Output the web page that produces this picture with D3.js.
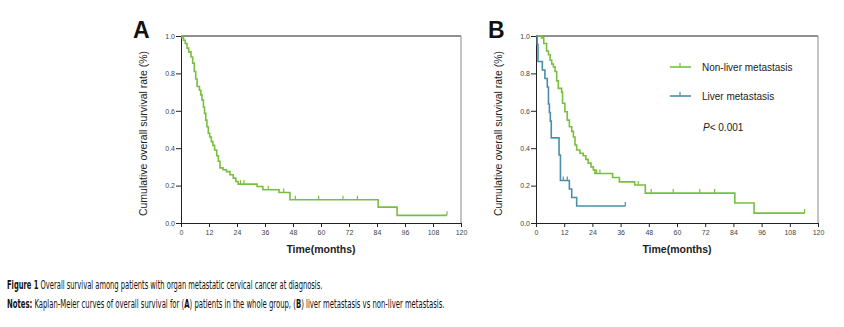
<!DOCTYPE html>
<html lang="en">
<head>
  <meta charset="UTF-8">
  <title>Overall survival - organ metastatic cervical cancer</title>
  <script src="https://d3js.org/d3.v7.min.js"></script>
  <style>
    html, body {
      margin: 0;
      padding: 0;
      background: #fff;
    }
    svg {
      display: block;
      font-family: Arial, "Liberation Sans", sans-serif;
    }
  </style>
</head>
<body>
<svg id="canvas" width="844" height="327"></svg>

<script>
  // axis ticks (months / survival proportion)
  let monthTicks = [0, 12, 24, 36, 48, 60, 72, 84, 96, 108, 120];
  let survTicks = [0, 0.2, 0.4, 0.6, 0.8, 1.0];

  // panel A : whole group, KM steps (event time, survival after event)
  let wholeTimes = [0.5, 1.1, 1.8, 2.6, 3.3, 4.3, 5.0, 5.7, 6.3, 6.9, 7.9, 8.5, 9.0, 9.6, 10.1, 10.6, 11.1, 11.7,
                    12.3, 13.0, 13.7, 14.4, 15.3, 16.0, 16.7, 18.0, 19.5, 21.0, 22.4, 23.5, 24.5, 32.6, 35.1, 42.0, 46.7, 84.5, 92.6];
  let wholeSurv = [0.99, 0.977, 0.96, 0.935, 0.915, 0.888, 0.855, 0.81, 0.77, 0.73, 0.71, 0.685, 0.657, 0.62, 0.586, 0.55, 0.515, 0.48,
                   0.46, 0.435, 0.415, 0.39, 0.36, 0.33, 0.295, 0.285, 0.275, 0.258, 0.24, 0.222, 0.208, 0.195, 0.178, 0.163, 0.124, 0.085, 0.041];
  let wholeCensor = [25.5, 27, 37.4, 44, 49, 59, 69.4, 75.6, 114];
  let wholeEnd = 114;

  // panel B : non-liver metastasis
  let nonLiverTimes = [2.4, 3.3, 4.5, 5.3, 6.0, 6.7, 7.4, 8.1, 8.8, 9.5, 10.9, 11.3, 12.3, 13.3, 14.2, 15.2, 15.9, 16.6,
                       17.3, 18.7, 20.1, 21.2, 22.2, 23.4, 24.4, 25.1, 32.6, 35.5, 42.0, 46.5, 84.6, 92.8];
  let nonLiverSurv = [0.99, 0.96, 0.92, 0.90, 0.87, 0.85, 0.835, 0.81, 0.76, 0.72, 0.70, 0.64, 0.595, 0.55, 0.515, 0.49, 0.46, 0.417,
                      0.39, 0.373, 0.36, 0.34, 0.32, 0.30, 0.284, 0.265, 0.243, 0.22, 0.203, 0.16, 0.107, 0.053];
  let nonLiverCensor = [25.8, 27.2, 43.5, 49, 58.4, 69.7, 76, 114.3];
  let nonLiverEnd = 114.3;

  // panel B : liver metastasis
  let liverTimes = [0.5, 0.85, 2.7, 3.8, 4.8, 5.3, 5.7, 6.1, 6.5, 9.8, 10.4, 14.2, 15.2, 17.3];
  let liverSurv = [0.955, 0.864, 0.818, 0.773, 0.727, 0.636, 0.591, 0.545, 0.455, 0.364, 0.227, 0.182, 0.136, 0.091];
  let liverCensor = [11.6, 13.3, 38];
  let liverEnd = 38;

  let green = '#79bf3f';
  let blue = '#4b8dab';

  let canvas = d3.select('#canvas');
  let plotTop = 36, plotBottom = 223;

  let stepPoints = (times, surv, end) => {
    let pts = [[0, 1]];
    times.forEach((t, i) => pts.push([t, surv[i]]));
    pts.push([end, surv[surv.length - 1]]);
    return pts;
  };

  let survAt = (times, surv, t) => {
    let s = 1;
    times.forEach((tt, i) => { if (tt <= t) s = surv[i]; });
    return s;
  };

  let drawPanel = (left, right, letter, series) => {
    let x = d3.scaleLinear().domain([0, 120]).range([left, right]);
    let y = d3.scaleLinear().domain([0, 1]).range([plotBottom, plotTop]);
    let g = canvas.append('g');

    // frame: top and right lines
    g.append('line').attr('x1', left).attr('x2', right).attr('y1', plotTop).attr('y2', plotTop)
      .attr('stroke', '#222').attr('stroke-width', 1);
    g.append('line').attr('x1', right).attr('x2', right).attr('y1', plotTop).attr('y2', plotBottom)
      .attr('stroke', '#888').attr('stroke-width', 1);

    let yAxis = g.append('g').attr('transform', `translate(${left},0)`)
      .call(d3.axisLeft(y).tickValues(survTicks).tickFormat(d3.format('.1f')).tickSize(5).tickSizeOuter(0));
    let xAxis = g.append('g').attr('transform', `translate(0,${plotBottom})`)
      .call(d3.axisBottom(x).tickValues(monthTicks).tickSize(4).tickSizeOuter(0));
    [yAxis, xAxis].forEach(ax => {
      ax.select('.domain').attr('stroke', '#222');
      ax.selectAll('.tick line').attr('stroke', '#222');
      ax.selectAll('.tick text').attr('fill', '#444').style('font-size', '7px');
    });
    yAxis.selectAll('.tick text').attr('x', -6);
    xAxis.selectAll('.tick text').attr('y', 7);

    // axis titles
    g.append('text')
      .attr('transform', `translate(${left - 34},${(plotTop + plotBottom) / 2 + 4}) rotate(-90)`)
      .attr('text-anchor', 'middle')
      .style('font-size', '10.5px').attr('fill', '#222')
      .text('Cumulative overall survival rate (%)');
    g.append('text')
      .attr('x', (left + right) / 2).attr('y', 253)
      .attr('text-anchor', 'middle')
      .style('font-size', '10.5px').style('font-weight', 'bold').attr('fill', '#222')
      .text('Time(months)');

    // panel letter
    g.append('text')
      .attr('x', left - 48).attr('y', 38)
      .style('font-size', '23px').style('font-weight', 'bold').attr('fill', '#111')
      .text(letter);

    let line = d3.line().x(d => x(d[0])).y(d => y(d[1])).curve(d3.curveStepAfter);

    series.forEach(s => {
      g.append('path')
        .datum(stepPoints(s.times, s.surv, s.end))
        .attr('d', line)
        .attr('fill', 'none')
        .attr('stroke', s.color)
        .attr('stroke-width', 1.6);
      g.selectAll(null)
        .data(s.censor)
        .enter()
        .append('line')
        .attr('x1', d => x(d)).attr('x2', d => x(d))
        .attr('y1', d => y(survAt(s.times, s.surv, d)))
        .attr('y2', d => y(survAt(s.times, s.surv, d)) - 4)
        .attr('stroke', s.color)
        .attr('stroke-width', 1.2);
    });
    return { x, y, g };
  };

  drawPanel(181, 461, 'A', [
    { times: wholeTimes, surv: wholeSurv, censor: wholeCensor, end: wholeEnd, color: green }
  ]);

  let pB = drawPanel(536, 818, 'B', [
    { times: nonLiverTimes, surv: nonLiverSurv, censor: nonLiverCensor, end: nonLiverEnd, color: green },
    { times: liverTimes, surv: liverSurv, censor: liverCensor, end: liverEnd, color: blue }
  ]);

  // legend for panel B
  let legend = [
    { name: 'Non-liver metastasis', color: green, y: 67 },
    { name: 'Liver metastasis', color: blue, y: 96 }
  ];
  legend.forEach(l => {
    pB.g.append('line').attr('x1', 670).attr('x2', 691).attr('y1', l.y).attr('y2', l.y)
      .attr('stroke', l.color).attr('stroke-width', 1.6);
    pB.g.append('line').attr('x1', 680).attr('x2', 680).attr('y1', l.y).attr('y2', l.y - 4)
      .attr('stroke', l.color).attr('stroke-width', 1.2);
    pB.g.append('text').attr('x', 702).attr('y', l.y + 3.5)
      .style('font-size', '10px').attr('fill', '#222').text(l.name);
  });
  let pText = pB.g.append('text').attr('x', 703).attr('y', 130.5)
    .style('font-size', '10px').attr('fill', '#222');
  pText.append('tspan').style('font-style', 'italic').text('P');
  pText.append('tspan').text('< 0.001');

  // figure caption, squeezed horizontally to the column width
  let capFont = '"Liberation Sans Narrow", "DejaVu Sans Condensed", "Open Sans", sans-serif';
  let caption = (yPos, width, parts) => {
    let t = canvas.append('text')
      .style('font-family', capFont).style('font-size', '11.5px').attr('fill', '#111');
    parts.forEach(p => {
      t.append('tspan').style('font-weight', p[1] ? 'bold' : 'normal').text(p[0]);
    });
    let w = t.node().getComputedTextLength();
    t.attr('transform', `translate(7,${yPos}) scale(${width / w},1)`);
  };
  caption(289, 316, [
    ['Figure 1', true],
    [' Overall survival among patients with organ metastatic cervical cancer at diagnosis.', false]
  ]);
  caption(308, 438, [
    ['Notes:', true],
    [' Kaplan-Meier curves of overall survival for (', false],
    ['A', true],
    [') patients in the whole group, (', false],
    ['B', true],
    [') liver metastasis vs non-liver metastasis.', false]
  ]);
</script>
</body>
</html>
